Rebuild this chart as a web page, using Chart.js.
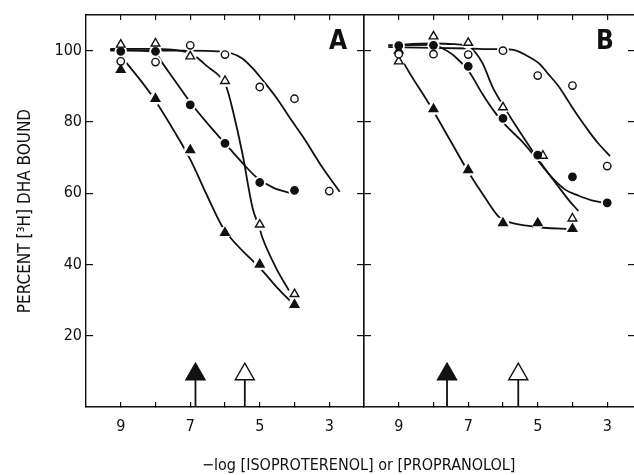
<!DOCTYPE html>
<html lang="en">
  <head>
    <meta charset="UTF-8" />
    <title>DHA binding</title>
    <script src="https://cdn.jsdelivr.net/npm/chart.js"></script>
    <style>
      html, body { margin: 0; padding: 0; background: #fff; overflow: hidden; }
      body { width: 634px; height: 475px; position: relative; }
      canvas { position: absolute; top: 0; }
      #panelA { left: 0; }
      #panelB { left: 300px; }
      #xTitle {
        position: absolute; left: 202px; top: 457px; white-space: nowrap;
        font: 16px "DejaVu Sans Condensed", "Liberation Sans Narrow", sans-serif;
        line-height: 1; color: #111;
      }
    </style>
  </head>
  <body>
    <canvas id="panelA" width="380" height="475"></canvas>
    <canvas id="panelB" width="380" height="475"></canvas>
    <div id="xTitle">&minus;log [ISOPROTERENOL] or [PROPRANOLOL]</div>

    <script>
      // -log concentration, and the labelled ones
      const doses = [9, 8, 7, 6, 5, 4, 3];
      const xLabels = [9, 7, 5, 3];
      const yTicks = [20, 40, 60, 80, 100];

      // Panel A, measured points (percent bound)
      const aOpenCircle = [97, 96.8, 101.5, 98.9, 89.8, 86.5, 60.6];
      const aClosedCircle = [99.8, 99.8, 84.8, 74, 63, 60.8];
      const aClosedTri = [94.6, 86.5, 72.1, 48.9, 40, 28.7];
      const aOpenTri = [101.7, 102, 98.4, 91.5, 51.2, 31.7];

      // Panel A, drawn curves
      const aOpenCircleCurveX = [9.3, 8, 7, 6.2, 5.8, 5.5, 5.2, 4.9, 4.5, 4.16, 3.7, 3.21, 2.7];
      const aOpenCircleCurveY = [100.2, 100, 100, 99.8, 99.2, 97.8, 95, 91.5, 86.5, 81.5, 75, 67.4, 60.4];
      const aClosedCircleCurveX = [9.3, 8.5, 8, 7.8, 7.4, 7, 6.5, 6, 5.5, 5.1, 4.6, 4.1];
      const aClosedCircleCurveY = [100, 100, 99.3, 96.5, 91, 85.5, 79.5, 74, 68.5, 64.5, 61.5, 60];
      const aClosedTriCurveX = [9.0, 8.83, 8.12, 7.5, 7, 6.5, 6.1, 5.8, 5.2, 4.9, 4.5, 4.1];
      const aClosedTriCurveY = [98.5, 96.5, 87.6, 78, 69.5, 59, 51, 47, 41, 38, 33.5, 29.5];
      const aOpenTriCurveX = [9.3, 8, 7.3, 7, 6.83, 6.5, 6.11, 5.95, 5.78, 5.5, 5.21, 5.0, 4.93, 4.54, 4.16];
      const aOpenTriCurveY = [100.5, 100.5, 100, 99.2, 98.2, 95.5, 92.3, 89.5, 83.4, 71.2, 56, 50, 47.7, 39.2, 32.7];

      // Panel B, measured points
      const bOpenCircle = [99, 99, 98.9, 100, 93, 90.2, 67.6];
      const bClosedCircle = [101.4, 101.5, 95.6, 81, 70.7, 64.6, 57.3];
      const bClosedTri = [100, 83.6, 66.5, 51.6, 51.6, 50];
      const bOpenTriX = [9, 8, 7, 6, 4.85, 4];
      const bOpenTri = [97, 104, 102.2, 84.1, 70.5, 52.9];

      // Panel B, drawn curves
      const bOpenCircleCurveX = [9.3, 8, 7, 6.2, 5.74, 5.3, 4.97, 4.7, 4.4, 4.1, 3.83, 3.5, 3.26, 2.92];
      const bOpenCircleCurveY = [101, 100.8, 100.6, 100.4, 100.3, 98.5, 96.5, 93.5, 90, 85.5, 81.5, 77, 74, 70.4];
      const bClosedCircleCurveX = [9.3, 8, 7.78, 7.4, 6.97, 6.6, 6.21, 5.92, 5.5, 5.16, 4.9, 4.6, 4.21, 3.8, 3.45, 3.07];
      const bClosedCircleCurveY = [101.5, 101.6, 100.8, 98.5, 94, 88, 82.4, 79, 75, 71.2, 68, 64.5, 61, 59.2, 58, 57.3];
      const bOpenTriCurveX = [9.3, 8, 7.4, 6.97, 6.59, 6.31, 6.02, 5.6, 5.16, 4.8, 4.4, 4.1, 3.83];
      const bOpenTriCurveY = [101.5, 102, 101.8, 101, 96.5, 90, 85, 78.5, 72, 67, 61.8, 58, 55];
      const bClosedTriCurveX = [9.0, 8.88, 8.11, 7.5, 7, 6.5, 6.11, 5.8, 5.26, 4.83, 4.1];
      const bClosedTriCurveY = [99.5, 97, 84.8, 74.5, 66, 58.5, 53.3, 51.8, 50.8, 50.3, 50];

      // arrows: [isoproterenol (closed), propranolol (open)]
      const aArrowX = [6.85, 5.43];
      const bArrowX = [7.61, 5.56];
      const arrowHeadY = 9.2;
      const arrowStemTop = 7.7;

      const FONT = '"DejaVu Sans Condensed", "Liberation Sans Narrow", sans-serif';
      const INK = "#111";

      const pts = (xs, ys) => ys.map((y, i) => ({ x: xs[i], y: y }));

      function curve(xs, ys) {
        return {
          data: pts(xs, ys), showLine: true, borderColor: INK, borderWidth: 1.8,
          pointRadius: 0, cubicInterpolationMode: "monotone", order: 3,
        };
      }
      function marks(xs, ys, style, filled) {
        return {
          data: pts(xs, ys), pointStyle: style,
          pointRadius: style === "triangle" ? 5 : 3.7,
          pointBackgroundColor: filled ? INK : "#fff",
          pointBorderColor: INK, pointBorderWidth: 1.4, order: 1,
        };
      }
      function halo(sets) {
        return {
          data: sets.flatMap(([xs, ys]) => pts(xs, ys)), pointStyle: "circle",
          pointRadius: 6.2, pointBackgroundColor: "#fff", pointBorderWidth: 0, order: 2,
        };
      }
      function arrows(xs) {
        const out = [];
        xs.forEach((x, i) => {
          out.push({
            data: [{ x: x, y: 0 }, { x: x, y: arrowStemTop }], showLine: true,
            borderColor: INK, borderWidth: 1.8, pointRadius: 0, order: 0,
          });
          out.push({
            data: [{ x: x, y: arrowHeadY }], pointStyle: "triangle", pointRadius: 11,
            pointBackgroundColor: i === 0 ? INK : "#fff", pointBorderColor: INK,
            pointBorderWidth: 1.4, order: 0,
          });
        });
        return out;
      }

      // keep the plot box where it is in the figure
      function fixSize(s, w, h) {
        if (w !== null) s.width = w;
        if (h !== null) s.height = h;
        s.paddingTop = s.paddingBottom = s.paddingLeft = s.paddingRight = 0;
      }

      function xScale(pos, min, max) {
        return {
          type: "linear", position: pos, reverse: true, min: min, max: max,
          afterBuildTicks: (s) => { s.ticks = doses.map((v) => ({ value: v })); },
          afterFit: (s) => fixSize(s, null, pos === "bottom" ? 68 : 0),
          grid: { drawOnChartArea: false, tickLength: -5, color: INK, lineWidth: 1.2 },
          border: { display: true, color: INK, width: 1.5 },
          ticks: {
            display: pos === "bottom", autoSkip: false, maxRotation: 0, padding: 15, color: INK,
            font: { family: FONT, size: 16 },
            callback: (v) => (xLabels.includes(v) ? String(v) : ""),
          },
        };
      }
      function yScale(pos, width, labels, title) {
        return {
          type: "linear", position: pos, min: 0, max: 110,
          afterBuildTicks: (s) => { s.ticks = yTicks.map((v) => ({ value: v })); },
          afterFit: (s) => fixSize(s, width, null),
          grid: { drawOnChartArea: false, tickLength: -7, color: INK, lineWidth: 1.2 },
          border: { display: true, color: INK, width: 1.4 },
          ticks: { display: labels, padding: 11, color: INK, font: { family: FONT, size: 16 } },
          title: {
            display: !!title, text: title, color: INK, padding: { top: 15, bottom: 0 },
            font: { family: FONT, size: 17 },
          },
        };
      }

      function letter(txt, dx) {
        return {
          id: "letter" + txt,
          afterDraw(chart) {
            const ctx = chart.ctx;
            ctx.save();
            ctx.fillStyle = INK;
            ctx.font = "bold 26px " + FONT;
            ctx.textAlign = "center";
            ctx.textBaseline = "alphabetic";
            ctx.fillText(txt, chart.chartArea.right - dx, 49);
            ctx.restore();
          },
        };
      }

      function panel(id, cfg) {
        return new Chart(document.getElementById(id), {
          type: "scatter",
          data: { datasets: cfg.datasets },
          options: {
            responsive: false, animation: false, devicePixelRatio: 1,
            layout: { padding: { left: 0, top: 15, right: cfg.padRight, bottom: 0 } },
            plugins: { legend: { display: false }, tooltip: { enabled: false } },
            scales: {
              x: xScale("bottom", cfg.xMin, 10),
              xTop: xScale("top", cfg.xMin, 10),
              y: yScale("left", cfg.yWidth, cfg.yLabels, cfg.yTitle),
              yRight: yScale("right", 0, false, ""),
            },
          },
          plugins: [letter(cfg.letter, cfg.letterDx)],
        });
      }

      panel("panelA", {
        xMin: 2, padRight: 16, yWidth: 86, yLabels: true,
        yTitle: "PERCENT [\u00B3H] DHA BOUND", letter: "A", letterDx: 26,
        datasets: [
          curve(aOpenCircleCurveX, aOpenCircleCurveY),
          curve(aClosedCircleCurveX, aClosedCircleCurveY),
          curve(aClosedTriCurveX, aClosedTriCurveY),
          curve(aOpenTriCurveX, aOpenTriCurveY),
          halo([[doses, aOpenCircle], [doses, aClosedCircle], [doses, aClosedTri], [doses, aOpenTri]]),
          marks(doses, aOpenCircle, "circle", false),
          marks(doses, aClosedCircle, "circle", true),
          marks(doses, aClosedTri, "triangle", true),
          marks(doses, aOpenTri, "triangle", false),
          ...arrows(aArrowX),
        ],
      });

      panel("panelB", {
        xMin: 2.2, padRight: 45, yWidth: 64, yLabels: false,
        yTitle: "", letter: "B", letterDx: 30,
        datasets: [
          curve(bOpenCircleCurveX, bOpenCircleCurveY),
          curve(bClosedCircleCurveX, bClosedCircleCurveY),
          curve(bClosedTriCurveX, bClosedTriCurveY),
          curve(bOpenTriCurveX, bOpenTriCurveY),
          halo([[doses, bOpenCircle], [doses, bClosedCircle], [doses, bClosedTri], [bOpenTriX, bOpenTri]]),
          marks(doses, bOpenCircle, "circle", false),
          marks(doses, bClosedCircle, "circle", true),
          marks(doses, bClosedTri, "triangle", true),
          marks(bOpenTriX, bOpenTri, "triangle", false),
          ...arrows(bArrowX),
        ],
      });
    </script>
  </body>
</html>
